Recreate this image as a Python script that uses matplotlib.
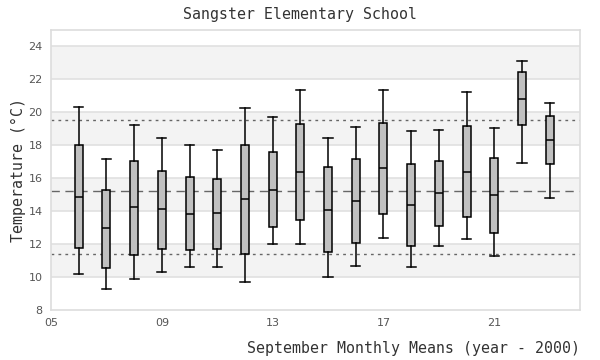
"""
Sangster Elementary School - September monthly mean temperatures,
box plot per year with overall mean / spread reference lines.
"""
import matplotlib
matplotlib.use("Agg")
import matplotlib.pyplot as plt
from matplotlib.ticker import FuncFormatter

# year - 2000
years = [6, 7, 8, 9, 10, 11, 12, 13, 14, 15, 16, 17, 18, 19, 20, 21, 22, 23]

# box statistics (degrees C)
whisker_low = [10.16, 9.27, 9.88, 10.28, 10.59, 10.59, 9.68, 12.00, 12.00,
               9.98, 10.65, 12.34, 10.59, 11.86, 12.28, 11.25, 16.89, 14.77]
q1 = [11.74, 10.53, 11.31, 11.68, 11.62, 11.72, 11.37, 13.01, 13.49,
      11.52, 12.06, 13.82, 11.86, 13.07, 13.62, 12.67, 19.25, 16.83]
median = [14.85, 12.95, 14.22, 14.10, 13.82, 13.86, 14.71, 15.31, 16.40,
          14.04, 14.59, 16.61, 14.36, 15.07, 16.40, 14.97, 20.83, 18.30]
q3 = [18.00, 15.31, 17.07, 16.46, 16.04, 15.92, 18.00, 17.56, 19.31,
      16.65, 17.19, 19.37, 16.83, 17.07, 19.19, 17.25, 22.46, 19.80]
whisker_high = [20.34, 17.19, 19.23, 18.46, 18.00, 17.68, 20.28, 19.74, 21.37,
                18.46, 19.13, 21.37, 18.89, 18.95, 21.25, 19.07, 23.13, 20.59]

overall_mean = 15.25
upper_line = 19.56
lower_line = 11.37

mono = "DejaVu Sans Mono"

fig = plt.figure(figsize=(6.0, 3.6), dpi=100)
ax = fig.add_axes([0.085, 0.139, 0.882, 0.778])

# alternating background bands
for lo in [10, 14, 18, 22]:
    ax.axhspan(lo, lo + 2, color="#f3f3f3", zorder=0, lw=0)
for y in range(10, 25, 2):
    ax.axhline(y, color="#e0e0e0", lw=1.2, zorder=1)

ax.axhline(overall_mean, color="#666666", lw=1.0, ls=(0, (6, 4)), zorder=2)
ax.axhline(upper_line, color="#666666", lw=1.0, ls=(0, (2, 3)), zorder=2)
ax.axhline(lower_line, color="#666666", lw=1.0, ls=(0, (2, 3)), zorder=2)

stats = []
for i in range(len(years)):
    stats.append({"whislo": whisker_low[i], "q1": q1[i], "med": median[i],
                  "q3": q3[i], "whishi": whisker_high[i], "fliers": []})

ax.bxp(stats, positions=years, widths=0.29, patch_artist=True,
       showfliers=False, manage_ticks=False,
       boxprops=dict(facecolor="#c0c0c0", edgecolor="black", lw=1.1),
       medianprops=dict(color="black", lw=1.1),
       whiskerprops=dict(color="black", lw=1.1),
       capprops=dict(color="black", lw=1.1),
       capwidths=0.33, zorder=3)

ax.set_xlim(5, 24.1)
ax.set_ylim(8, 25)
ax.set_xticks([5, 9, 13, 17, 21])
ax.xaxis.set_major_formatter(FuncFormatter(lambda v, p: "%02d" % v))
ax.set_yticks(range(8, 25, 2))
ax.tick_params(length=0, labelsize=8, colors="#555555", pad=6)

for s in ax.spines.values():
    s.set_color("#dddddd")
    s.set_linewidth(1.2)

fig.text(0.5, 1 - 14.0 / 360, "Sangster Elementary School", fontfamily=mono,
         fontsize=10.7, color="#333333", ha="center", va="center")
ax.set_xlabel("September Monthly Means (year - 2000)", fontfamily=mono,
              fontsize=10.7, color="#333333", loc="right", labelpad=9)
ax.set_ylabel("Temperature (°C)", fontfamily=mono, fontsize=10.7,
              color="#333333", labelpad=2)

fig.savefig("out.png", dpi=100, facecolor="white")
